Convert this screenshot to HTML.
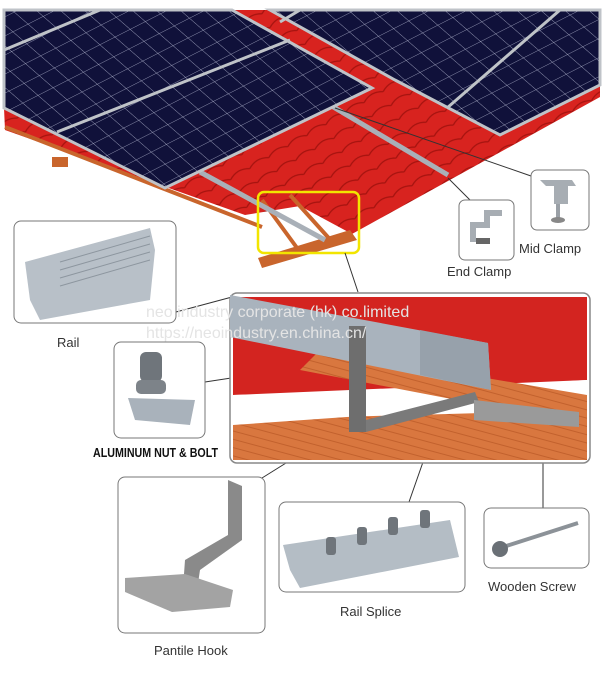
<!DOCTYPE html>
<html><head><meta charset="utf-8"><style>
html,body{margin:0;padding:0;background:#fff;}
svg{display:block;}
text{font-family:"Liberation Sans",sans-serif;}
</style></head><body>
<svg width="611" height="677" viewBox="0 0 611 677" xmlns="http://www.w3.org/2000/svg">
<defs>
<pattern id="cells" width="17" height="17" patternUnits="userSpaceOnUse" patternTransform="rotate(-27) skewX(22)">
<rect width="17" height="17" fill="#10113a"/>
<path d="M0 0H17M0 0V17" stroke="#b8bbd4" stroke-width="0.8"/>
</pattern>
<pattern id="wood" width="8" height="8" patternUnits="userSpaceOnUse" patternTransform="rotate(15)">
<rect width="8" height="8" fill="#d9773f"/><path d="M0 4H8" stroke="#c2612d" stroke-width="1"/>
</pattern>
<pattern id="tiles" width="22" height="16" patternUnits="userSpaceOnUse" patternTransform="rotate(-30)">
<rect width="22" height="16" fill="#d8231f"/><path d="M0 15 Q11 8 22 15" stroke="#a5130f" stroke-width="1.2" fill="none"/>
</pattern>
</defs>
<rect width="611" height="677" fill="#fff"/>
<!-- roof -->
<polygon points="4,108 232,10 600,10 600,97 352,234 300,206 245,215 5,130" fill="url(#tiles)"/>
<!-- battens -->
<g stroke="#c9652c" stroke-width="4" fill="none">
<line x1="5" y1="127" x2="262" y2="227"/>
<line x1="262" y1="200" x2="300" y2="252"/>
<line x1="290" y1="195" x2="335" y2="245"/>
</g>
<rect x="52" y="157" width="16" height="10" fill="#c9652c"/>
<polygon points="258,258 350,230 357,240 262,268" fill="#c9652c"/>
<!-- rails -->
<line x1="200" y1="172" x2="325" y2="240" stroke="#a9b0b8" stroke-width="5"/>
<line x1="330" y1="105" x2="448" y2="175" stroke="#a9b0b8" stroke-width="5"/>
<!-- panels -->
<polygon points="4,10 232,10 372,88 165,188 4,108" fill="url(#cells)" stroke="#bfc3c8" stroke-width="3"/>
<line x1="57" y1="132" x2="290" y2="40" stroke="#bfc3c8" stroke-width="3"/>
<line x1="4" y1="50" x2="100" y2="10" stroke="#bfc3c8" stroke-width="3"/>
<polygon points="270,10 600,10 600,85 500,135 395,80" fill="url(#cells)" stroke="#bfc3c8" stroke-width="3"/>
<line x1="447" y1="108" x2="560" y2="10" stroke="#bfc3c8" stroke-width="3"/>
<line x1="280" y1="22" x2="300" y2="10" stroke="#bfc3c8" stroke-width="3"/>
<!-- yellow box -->
<rect x="258" y="192" width="101" height="61" rx="6" fill="none" stroke="#f2e500" stroke-width="2.5"/>
<!-- leader lines -->
<g stroke="#333" stroke-width="1" fill="none">
<line x1="335" y1="108" x2="531" y2="176"/>
<line x1="448" y1="178" x2="470" y2="200"/>
<line x1="345" y1="253" x2="358" y2="292"/>
<line x1="176" y1="312" x2="232" y2="297"/>
<line x1="205" y1="382" x2="350" y2="360"/>
<line x1="262" y1="478" x2="355" y2="420"/>
<line x1="409" y1="502" x2="457" y2="365"/>
<line x1="543" y1="508" x2="543" y2="420"/>
</g>
<!-- clamp boxes -->
<rect x="531" y="170" width="58" height="60" rx="6" fill="#fff" stroke="#777"/>
<path d="M540 180h32l4 6h-8v18h-14v-18h-8z" fill="#a7adb3"/><rect x="556" y="204" width="4" height="16" fill="#9aa0a6"/><ellipse cx="558" cy="220" rx="7" ry="3" fill="#888"/>
<text x="519" y="253" font-size="13" fill="#333">Mid Clamp</text>
<rect x="459" y="200" width="55" height="60" rx="6" fill="#fff" stroke="#777"/>
<path d="M470 222h14v-12h18v6h-12v12h-14v14h-6z" fill="#a7adb3"/><rect x="476" y="238" width="14" height="6" fill="#666"/>
<text x="447" y="276" font-size="13" fill="#333">End Clamp</text>
<!-- rail box -->
<rect x="14" y="221" width="162" height="102" rx="7" fill="#fff" stroke="#777"/>
<polygon points="25,262 150,228 155,250 150,300 40,320 30,300" fill="#b8c0c8"/>
<g stroke="#8d969f" stroke-width="1"><line x1="60" y1="262" x2="150" y2="236"/><line x1="60" y1="270" x2="150" y2="244"/><line x1="60" y1="278" x2="150" y2="252"/><line x1="60" y1="286" x2="150" y2="260"/></g>
<text x="57" y="347" font-size="13" fill="#333">Rail</text>
<!-- detail box -->
<rect x="230" y="293" width="360" height="170" rx="7" fill="#fff" stroke="#888" stroke-width="1.5"/>
<polygon points="233,297 587,297 587,380 420,390 233,395" fill="#d32420"/>
<polygon points="233,420 587,410 587,460 233,460" fill="url(#wood)"/>
<polygon points="233,395 587,380 587,400 233,425" fill="#fff"/>
<polygon points="320,350 587,395 587,425 300,370" fill="url(#wood)"/>
<polygon points="233,430 400,440 440,458 233,458" fill="url(#wood)"/>
<polygon points="230,295 488,343 491,390 230,337" fill="#a9b3bd"/>
<polygon points="420,330 488,343 491,390 420,375" fill="#97a1ab"/>
<rect x="349" y="326" width="17" height="106" fill="#6e6e6e"/>
<polygon points="366,420 475,392 479,402 366,432" fill="#7a7a7a"/>
<polygon points="474,400 579,412 579,427 474,420" fill="#9a9a9a"/>
<!-- watermark -->
<text x="146" y="317" font-size="16" fill="#e4e4e4">neo industry corporate (hk) co.limited</text>
<text x="146" y="338" font-size="16" fill="#e4e4e4">https://neoindustry.en.china.cn/</text>
<!-- nut box -->
<rect x="114" y="342" width="91" height="96" rx="7" fill="#fff" stroke="#777"/>
<rect x="140" y="352" width="22" height="30" rx="6" fill="#6f757b"/><rect x="136" y="380" width="30" height="14" rx="5" fill="#7d8389"/>
<polygon points="128,398 195,400 190,425 135,420" fill="#a9b2bb"/>
<text x="93" y="457" font-size="13" font-weight="bold" fill="#111" textLength="125" lengthAdjust="spacingAndGlyphs">ALUMINUM NUT &amp; BOLT</text>
<!-- pantile hook box -->
<rect x="118" y="477" width="147" height="156" rx="7" fill="#fff" stroke="#777"/>
<polygon points="228,480 242,486 242,540 200,570 197,590 183,588 185,560 228,535" fill="#8a8a8a"/>
<polygon points="125,578 185,574 233,590 230,607 172,612 125,592" fill="#a3a3a3"/>
<text x="154" y="655" font-size="13" fill="#333">Pantile Hook</text>
<!-- rail splice box -->
<rect x="279" y="502" width="186" height="90" rx="7" fill="#fff" stroke="#777"/>
<polygon points="283,545 450,520 459,557 300,588 290,570" fill="#b4bdc5"/>
<g fill="#6f757b"><rect x="326" y="537" width="10" height="18" rx="3"/><rect x="357" y="527" width="10" height="18" rx="3"/><rect x="388" y="517" width="10" height="18" rx="3"/><rect x="420" y="510" width="10" height="18" rx="3"/></g>
<text x="340" y="616" font-size="13" fill="#333">Rail Splice</text>
<!-- wooden screw box -->
<rect x="484" y="508" width="105" height="60" rx="7" fill="#fff" stroke="#777"/>
<line x1="500" y1="548" x2="578" y2="523" stroke="#8c9298" stroke-width="4"/>
<circle cx="500" cy="549" r="8" fill="#6a7076"/>
<text x="488" y="591" font-size="13" fill="#333">Wooden Screw</text>
</svg>
</body></html>
